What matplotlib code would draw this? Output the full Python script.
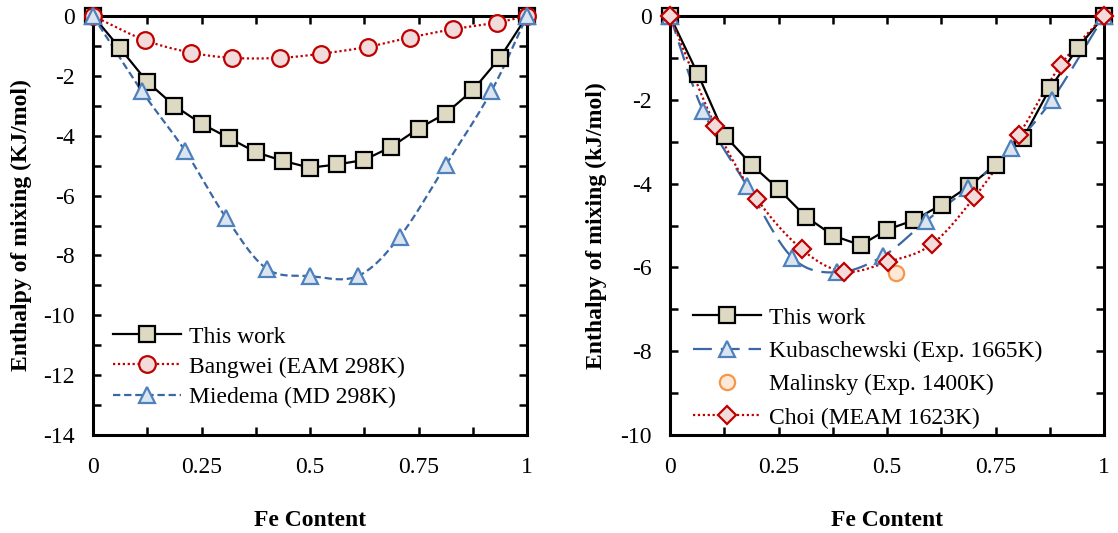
import numpy as np
import matplotlib
matplotlib.use("Agg")
import matplotlib.pyplot as plt
from matplotlib.ticker import MultipleLocator, FuncFormatter

plt.rcParams['font.family'] = ['Liberation Serif', 'DejaVu Serif']
plt.rcParams['axes.unicode_minus'] = False

# ---- data: left panel ----
x_work_l = [0, 0.0625, 0.125, 0.1875, 0.25, 0.3125, 0.375, 0.4375, 0.5,
            0.5625, 0.625, 0.6875, 0.75, 0.8125, 0.875, 0.9375, 1]
y_work_l = [0, -1.08, -2.2, -3.0, -3.6, -4.07, -4.55, -4.84, -5.07,
            -4.96, -4.81, -4.37, -3.76, -3.26, -2.48, -1.4, 0]

x_bangwei = [0, 0.12, 0.225, 0.321, 0.43, 0.526, 0.633, 0.73, 0.83, 0.93, 1]
y_bangwei = [0, -0.81, -1.22, -1.4, -1.4, -1.26, -1.03, -0.72, -0.44, -0.22, 0]

x_miedema = [0, 0.112, 0.212, 0.307, 0.4, 0.5, 0.61, 0.707, 0.813, 0.918, 1]
y_miedema = [0, -2.5, -4.5, -6.75, -8.44, -8.69, -8.69, -7.37, -4.98, -2.51, 0]

# ---- data: right panel ----
x_work_r = [0, 0.064, 0.127, 0.188, 0.251, 0.313, 0.376, 0.439, 0.5,
            0.563, 0.626, 0.689, 0.75, 0.814, 0.876, 0.939, 1]
y_work_r = [0, -1.38, -2.86, -3.55, -4.14, -4.79, -5.24, -5.47, -5.1,
            -4.87, -4.5, -4.06, -3.56, -2.91, -1.72, -0.77, 0]

x_kuba = [0, 0.076, 0.178, 0.282, 0.385, 0.491, 0.589, 0.687, 0.786, 0.88, 1]
y_kuba = [0, -2.26, -4.06, -5.77, -6.12, -5.73, -4.9, -4.1, -3.15, -2.0, 0]

x_malinsky = [0.52]
y_malinsky = [-6.14]

x_choi = [0, 0.104, 0.2, 0.304, 0.4, 0.502, 0.603, 0.701, 0.804, 0.9, 1]
y_choi = [0, -2.62, -4.36, -5.57, -6.1, -5.87, -5.45, -4.33, -2.83, -1.17, 0]


def smooth(x, y, n=24):
    # catmull-rom style curve, like the excel "smoothed line"
    x = np.asarray(x, float)
    y = np.asarray(y, float)
    px = np.concatenate([[2 * x[0] - x[1]], x, [2 * x[-1] - x[-2]]])
    py = np.concatenate([[2 * y[0] - y[1]], y, [2 * y[-1] - y[-2]]])
    t = np.linspace(0, 1, n, endpoint=False)
    sx, sy = [], []
    for i in range(1, len(px) - 2):
        for p, s in ((px, sx), (py, sy)):
            p0, p1, p2, p3 = p[i - 1], p[i], p[i + 1], p[i + 2]
            s.extend(0.5 * (2 * p1 + (-p0 + p2) * t
                            + (2 * p0 - 5 * p1 + 4 * p2 - p3) * t ** 2
                            + (-p0 + 3 * p1 - 3 * p2 + p3) * t ** 3))
    sx.append(x[-1])
    sy.append(y[-1])
    return np.array(sx), np.array(sy)


RED = '#c00000'
RED_FACE = '#f2dcdb'
BLUE_LINE = '#3c67a5'
BLUE_EDGE = '#4f81bd'
BLUE_FACE = '#dbe5f1'
TAN = '#ddd9c3'
ORANGE = '#f79646'
ORANGE_FACE = '#fde9d9'

FS = 17

fig = plt.figure(figsize=(11.18, 5.33), dpi=100)
ax1 = fig.add_axes([93 / 1118, 1 - 435 / 533, 434 / 1118, 419 / 533])
ax2 = fig.add_axes([670 / 1118, 1 - 435 / 533, 434 / 1118, 419 / 533])


def series(ax, x, y, ls, color, marker, ms, mfc, mec, label, smooth_it, dashes=None):
    if smooth_it:
        sx, sy = smooth(x, y)
    else:
        sx, sy = x, y
    ln, = ax.plot(sx, sy, ls=ls, color=color, lw=1.6, clip_on=False, zorder=3)
    if dashes is not None:
        ln.set_dashes(dashes)
    ax.plot(x, y, ls='none', marker=marker, ms=ms, mfc=mfc, mec=mec, mew=1.6,
            clip_on=False, zorder=4)
    # legend proxy
    h, = ax.plot([], [], ls=ls, color=color, lw=1.6, marker=marker, ms=ms,
                 mfc=mfc, mec=mec, mew=1.6)
    if dashes is not None:
        h.set_dashes(dashes)
    h.set_label(label)
    return h


h1 = series(ax1, x_work_l, y_work_l, '-', 'black', 's', 12, TAN, 'black',
            'This work', False)
h2 = series(ax1, x_bangwei, y_bangwei, ':', RED, 'o', 12, RED_FACE, RED,
            'Bangwei (EAM 298K)', True, dashes=(1, 1.2))
h3 = series(ax1, x_miedema, y_miedema, '--', BLUE_LINE, '^', 12, BLUE_FACE, BLUE_EDGE,
            'Miedema (MD 298K)', True, dashes=(3.3, 1.7))

g1 = series(ax2, x_work_r, y_work_r, '-', 'black', 's', 12, TAN, 'black',
            'This work', False)
g2 = series(ax2, x_kuba, y_kuba, '--', BLUE_LINE, '^', 12, BLUE_FACE, BLUE_EDGE,
            'Kubaschewski (Exp. 1665K)', True, dashes=(8.5, 4))
g3, = ax2.plot(x_malinsky, y_malinsky, ls='none', marker='o', ms=11,
               mfc=ORANGE_FACE, mec=ORANGE, mew=1.6, zorder=4,
               label='Malinsky (Exp. 1400K)')
g4 = series(ax2, x_choi, y_choi, ':', RED, 'D', 9.5, RED_FACE, RED,
            'Choi (MEAM 1623K)', True, dashes=(1, 1.2))

fmt = FuncFormatter(lambda v, p: '%g' % v)

for ax, ymin in ((ax1, -14), (ax2, -10)):
    ax.set_xlim(0, 1)
    ax.set_ylim(ymin, 0)
    ax.xaxis.set_major_locator(MultipleLocator(0.25))
    ax.xaxis.set_minor_locator(MultipleLocator(0.125))
    ax.yaxis.set_major_locator(MultipleLocator(2))
    ax.yaxis.set_minor_locator(MultipleLocator(1))
    ax.xaxis.set_major_formatter(fmt)
    ax.yaxis.set_major_formatter(fmt)
    ax.tick_params(which='both', direction='in', top=True, right=True,
                   length=6, width=1.8, labelsize=FS)
    ax.tick_params(axis='x', which='major', pad=16)
    ax.tick_params(axis='y', which='major', pad=13)
    for sp in ax.spines.values():
        sp.set_linewidth(2.2)
    ax.set_xlabel('Fe Content', fontsize=FS, fontweight='bold')
    ax.xaxis.set_label_coords(0.5, -0.178)

ax1.set_ylabel('Enthalpy of mixing (KJ/mol)', fontsize=FS, fontweight='bold')
ax1.yaxis.set_label_coords(-0.14, 0.5)
ax2.set_ylabel('Enthalpy of mixing (kJ/mol)', fontsize=FS, fontweight='bold')
ax2.yaxis.set_label_coords(-0.145, 0.5)

leg_kw = dict(loc='lower left', frameon=False, fontsize=FS, borderpad=0,
              borderaxespad=0, handlelength=2.9, handletextpad=0.3)
ax1.legend(handles=[h1, h2, h3], bbox_to_anchor=(0.046, 0.065),
           labelspacing=0.36, **leg_kw)
ax2.legend(handles=[g1, g2, g3, g4], bbox_to_anchor=(0.053, 0.015),
           labelspacing=0.5, **leg_kw)

fig.savefig('out.png', dpi=100)
